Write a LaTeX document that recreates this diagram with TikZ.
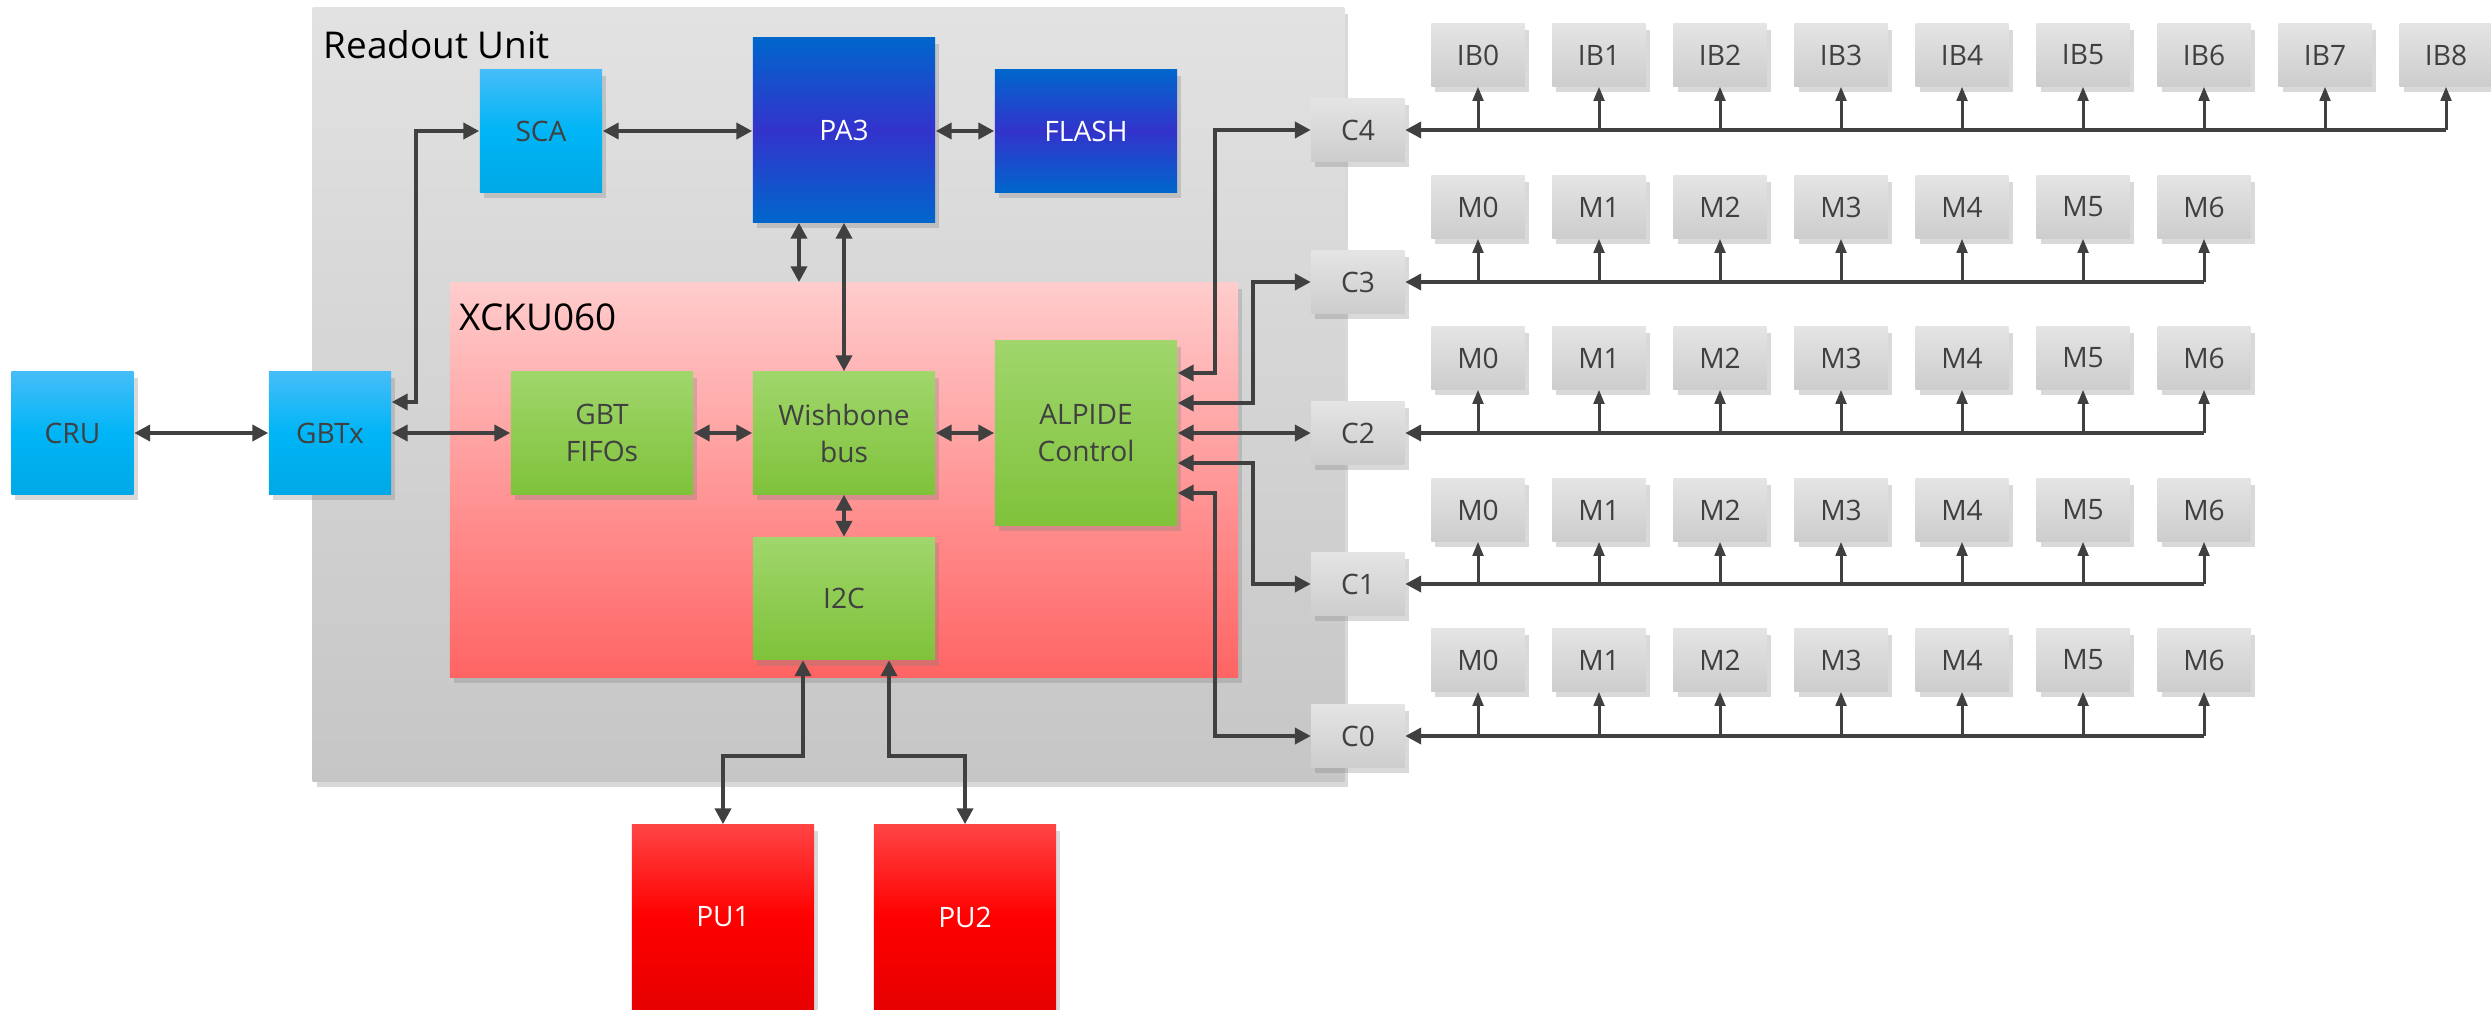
\documentclass[tikz,border=0pt]{standalone}
\usepackage{fontspec}
\setmainfont{Open Sans}
\usetikzlibrary{arrows.meta,shadows}
\definecolor{wire}{HTML}{404040}
\definecolor{rutop}{HTML}{E2E2E2}
\definecolor{rubot}{HTML}{C6C6C6}
\definecolor{fptop}{HTML}{FFCCCC}
\definecolor{fpbot}{HTML}{FF6464}
\definecolor{grtop}{HTML}{A0D66C}
\definecolor{grbot}{HTML}{7FC23A}
\definecolor{lbtop}{HTML}{45BDF8}
\definecolor{lbmid}{HTML}{00B5F6}
\definecolor{lbbot}{HTML}{00A8E6}
\definecolor{dbout}{HTML}{0066CC}
\definecolor{dbmid}{HTML}{3333CC}
\definecolor{putop}{HTML}{FF4444}
\definecolor{pumid}{HTML}{FF0000}
\definecolor{pubot}{HTML}{E60000}
\definecolor{cptop}{HTML}{E4E4E4}
\definecolor{cpbot}{HTML}{CDCDCD}
\begin{document}
\begin{tikzpicture}[x=0.01cm,y=-0.01cm,
  shade/.style={drop shadow={shadow xshift=0.4mm,shadow yshift=-0.6mm,opacity=0.3}},
  blk/.style={shade,inner sep=0pt,text=wire,align=center,font=\fontsize{8}{10.5}\selectfont},
  small/.style={minimum width=1.22cm,minimum height=1.22cm},
  wide/.style={minimum width=1.82cm,minimum height=1.22cm},
  tall/.style={minimum width=1.82cm,minimum height=1.84cm},
  lblue/.style={blk,top color=lbtop,bottom color=lbbot,middle color=lbmid},
  dblue/.style={blk,text=white,top color=dbout,bottom color=dbout,middle color=dbmid},
  green/.style={blk,top color=grtop,bottom color=grbot},
  redbox/.style={blk,text=white,top color=putop,bottom color=pubot,middle color=pumid},
  chip/.style={blk,top color=cptop,bottom color=cpbot,minimum width=0.93cm,minimum height=0.62cm},
  title/.style={inner sep=0pt,text=black,font=\fontsize{10.5}{12}\selectfont},
  biarrow/.style={draw=wire,line width=1.15pt,{Triangle[length=4.5pt,width=4.5pt]}-{Triangle[length=4.5pt,width=4.5pt]}},
  bus/.style={draw=wire,line width=1.4pt,-{Triangle[length=4.5pt,width=4.5pt]}},
  tap/.style={draw=wire,line width=0.85pt,-{Triangle[length=4pt,width=3pt]}}]
\useasboundingbox (0,0) rectangle (2491,1009);

% readout unit and FPGA
\node[shade,top color=rutop,bottom color=rubot,minimum width=10.31cm,minimum height=7.73cm] (ru) at (828.5,394.5) {};
\node[title,anchor=base west] (rulabel) at (323,58) {Readout Unit};
\node[shade,top color=fptop,bottom color=fpbot,minimum width=7.88cm,minimum height=3.94cm] (fpga) at (844,480) {};
\node[title,anchor=base west] (fpgalabel) at (459,330) {XCKU060};

% blocks
\node[lblue,small] (cru) at (72.5,433) {CRU};
\node[lblue,small] (gbtx) at (330,433) {GBTx};
\node[lblue,small] (sca) at (541,131) {SCA};
\node[dblue,tall] (pa3) at (844,130) {PA3};
\node[dblue,wide] (flash) at (1086,131) {FLASH};
\node[green,wide] (fifo) at (602,433) {GBT\\FIFOs};
\node[green,wide] (wb) at (844,433) {Wishbone\\bus};
\node[green,tall] (alpide) at (1086,433) {ALPIDE\\Control};
\node[green,wide] (i2c) at (844,598.5) {I2C};
\node[redbox,tall] (pu1) at (723,917) {PU1};
\node[redbox,tall] (pu2) at (965,917) {PU2};

% connectors and staves
\foreach \r/\y in {4/130,3/282,2/433,1/584,0/736}
  \node[chip] (c\r) at (1358,\y) {C\r};
\foreach \i in {0,...,8}
  \node[chip] (ib\i) at (1478+121*\i,55) {IB\i};
\foreach \r/\y in {3/207,2/358,1/510,0/660}
  \foreach \i in {0,...,6}
    \node[chip] (m\r\i) at (1478+121*\i,\y) {M\i};

% links
\draw[biarrow] (cru) -- (gbtx);
\draw[biarrow] (gbtx) -- (fifo);
\draw[biarrow] (fifo) -- (wb);
\draw[biarrow] (wb) -- (alpide);
\draw[biarrow] (wb) -- (i2c);
\draw[biarrow] (pa3) -- (wb);
\draw[biarrow] ([yshift=3.1mm]gbtx.east) -| ([xshift=-6.3mm]sca.west) -- (sca.west);
\draw[biarrow] (sca.east) -- (sca.east -| pa3.west);
\draw[biarrow] (pa3.east |- flash.west) -- (flash.west);
\draw[biarrow] ([xshift=-4.5mm]pa3.south) -- ([xshift=-4.5mm]pa3.south |- fpga.north);
\draw[biarrow] ([xshift=-4.1mm]i2c.south) -- ++(0,96) -| (pu1.north);
\draw[biarrow] ([xshift=4.5mm]i2c.south) -- ++(0,96) -| (pu2.north);
\draw[biarrow] ([yshift=6mm]alpide.east) -| ([xshift=-9.6mm]c4.west) -- (c4.west);
\draw[biarrow] ([yshift=3mm]alpide.east) -| ([xshift=-5.8mm]c3.west) -- (c3.west);
\draw[biarrow] (alpide.east) -- (c2.west);
\draw[biarrow] ([yshift=-3mm]alpide.east) -| ([xshift=-5.8mm]c1.west) -- (c1.west);
\draw[biarrow] ([yshift=-6mm]alpide.east) -| ([xshift=-9.6mm]c0.west) -- (c0.west);

% buses
\draw[bus] (ib8.south |- c4) -- (c4.east);
\foreach \i in {0,...,8}
  \draw[tap] (ib\i.south |- c4) -- (ib\i.south);
\foreach \r in {3,2,1,0} {
  \draw[bus] (m\r6.south |- c\r) -- (c\r.east);
  \foreach \i in {0,...,6}
    \draw[tap] (m\r\i.south |- c\r) -- (m\r\i.south);
}
\end{tikzpicture}
\end{document}
